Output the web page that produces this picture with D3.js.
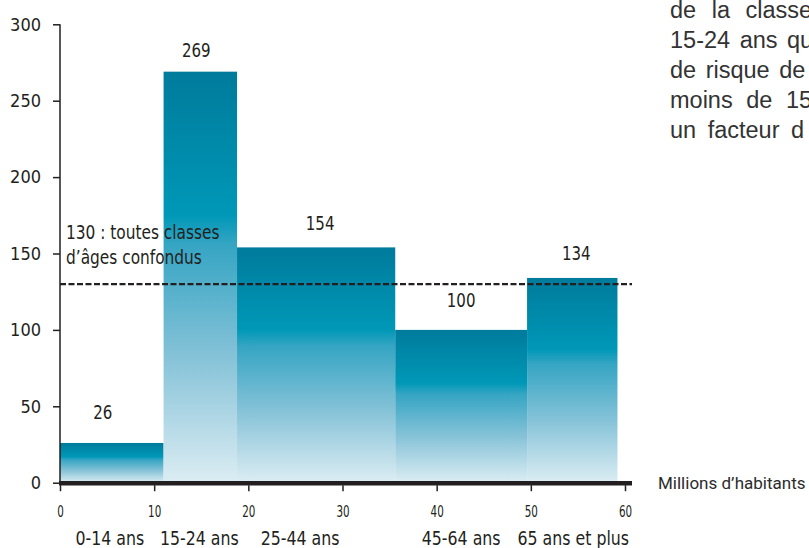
<!DOCTYPE html>
<html>
<head>
<meta charset="utf-8">
<script src="https://cdn.jsdelivr.net/npm/d3@7/dist/d3.min.js"></script>
<style>
  html, body { margin: 0; padding: 0; background: #fff; overflow: hidden; }
  svg { display: block; }
  .narrow { font-family: "DejaVu Sans Condensed", "DejaVu Sans", sans-serif; font-stretch: condensed; fill: #231f20; }
  .body { font-family: "Roboto", "Liberation Sans", sans-serif; fill: #2b2b2b; }
  .para { font-family: "Liberation Sans", "Arial", sans-serif; fill: #333; }
</style>
</head>
<body>
<svg id="chart" width="809" height="548"></svg>
<script>
// Age classes, their population (millions, bar widths) and rate (bar heights)
const ageClasses = ["0-14 ans", "15-24 ans", "25-44 ans", "45-64 ans", "65 ans et plus"];
const populationMillions = [11.0, 7.8, 16.8, 14.0, 9.6];
const rates = [26, 269, 154, 100, 134];
const overallRate = 130;
const overallLabel = ["130 : toutes classes", "d’âges confondus"];
const yTicks = [0, 50, 100, 150, 200, 250, 300];
const xTicks = [0, 10, 20, 30, 40, 50, 60];
const xAxisTitle = "Millions d’habitants";
const sideText = ["de la classe", "15-24 ans qu", "de risque de", "moins de 15", "un facteur d"];

const svg = d3.select("#chart");

const x = d3.scaleLinear().domain([0, 60]).range([60, 625]);
const y = d3.scaleLinear().domain([0, 300]).range([482.7, 24.3]);

// horizontally squeezed text, placed at (px, py)
function narrowText(sel, px, py, sx) {
  return sel.attr("class", "narrow")
    .attr("x", 0).attr("y", 0)
    .attr("transform", (d, i) => `translate(${px(d, i)},${py(d, i)}) scale(${sx},1)`);
}

// cumulative start of each bar along the population axis
const starts = [];
populationMillions.reduce((acc, w, i) => { starts[i] = acc; return acc + w; }, 0);
const bars = ageClasses.map((c, i) => ({
  label: c, x0: starts[i], x1: starts[i] + populationMillions[i], v: rates[i]
}));

// vertical gradient: deep teal at top, bright cyan, fading to pale blue at base
const defs = svg.append("defs");
const grad = defs.append("linearGradient")
  .attr("id", "barGrad").attr("x1", 0).attr("y1", 0).attr("x2", 0).attr("y2", 1);
[[0, "#007b9c"], [0.35, "#0098b7"], [0.42, "#35a5c3"], [0.7, "#87c3d8"], [1, "#dcedf3"]]
  .forEach(([o, c]) => grad.append("stop").attr("offset", o).attr("stop-color", c));

// bars
svg.append("g").selectAll("rect").data(bars).join("rect")
  .attr("x", d => x(d.x0))
  .attr("width", d => x(d.x1) - x(d.x0))
  .attr("y", d => y(d.v))
  .attr("height", d => y(0) - y(d.v))
  .attr("fill", "url(#barGrad)");

// value labels
const valueDx = [-9, -4, 4, 0, 4];
const valueDy = [-24, -15, -17, -23, -18];
narrowText(svg.append("g").selectAll("text").data(bars).join("text"),
    (d, i) => (x(d.x0) + x(d.x1)) / 2 + valueDx[i],
    (d, i) => y(d.v) + valueDy[i], 0.88)
  .attr("text-anchor", "middle")
  .attr("font-size", 19)
  .text(d => d.v);

// overall average line
svg.append("line")
  .attr("x1", x(0)).attr("x2", x(60) + 7)
  .attr("y1", y(overallRate)).attr("y2", y(overallRate))
  .attr("stroke", "#231f20").attr("stroke-width", 2.2)
  .attr("stroke-dasharray", "6 2.5");

narrowText(svg.append("g").selectAll("text").data(overallLabel).join("text"),
    () => 66, (d, i) => 239 + i * 25, 0.9)
  .attr("font-size", 19)
  .text(d => d);

// y axis
const yAxis = svg.append("g")
  .attr("transform", `translate(${x(0)},0)`)
  .call(d3.axisLeft(y).tickValues(yTicks).tickSize(7).tickPadding(12));
yAxis.select(".domain").attr("stroke", "#231f20").attr("stroke-width", 1.5)
  .attr("d", `M0,${y(300)}V${y(0)}`);
yAxis.selectAll(".tick line").attr("stroke", "#231f20").attr("stroke-width", 1.5);
yAxis.selectAll(".tick text").attr("class", "narrow").attr("font-size", 18).attr("fill", "#231f20");

// x axis: heavy baseline with ticks hanging below
svg.append("line")
  .attr("x1", x(0) - 1).attr("x2", x(60) + 7)
  .attr("y1", y(0) + 0.5).attr("y2", y(0) + 0.5)
  .attr("stroke", "#231f20").attr("stroke-width", 4.5);

const xAxis = svg.append("g")
  .attr("transform", `translate(0,${y(0) + 2.5})`)
  .call(d3.axisBottom(x).tickValues(xTicks).tickSize(6).tickPadding(14));
xAxis.select(".domain").remove();
xAxis.selectAll(".tick line").attr("stroke", "#231f20").attr("stroke-width", 1.5);
xAxis.selectAll(".tick text")
  .attr("class", "narrow").attr("font-size", 16).attr("fill", "#231f20")
  .attr("transform", "scale(0.72,1)");

// age class labels under the axis
const classDx = [-2, -1, -16, 0, 1];
narrowText(svg.append("g").selectAll("text").data(bars).join("text"),
    (d, i) => (x(d.x0) + x(d.x1)) / 2 + classDx[i], () => 545, 0.9)
  .attr("text-anchor", "middle")
  .attr("font-size", 19.5)
  .text(d => d.label);

svg.append("text")
  .attr("class", "body")
  .attr("x", 658).attr("y", 489)
  .attr("font-size", 17)
  .text(xAxisTitle);

// accompanying paragraph on the right, justified
const sideSpacing = [9, 3, 3, 7, 5];
svg.append("g").selectAll("text").data(sideText).join("text")
  .attr("class", "para")
  .attr("x", 670)
  .attr("y", (d, i) => 18 + i * 30)
  .attr("font-size", 23.5)
  .attr("word-spacing", (d, i) => sideSpacing[i])
  .text(d => d);
</script>
</body>
</html>
